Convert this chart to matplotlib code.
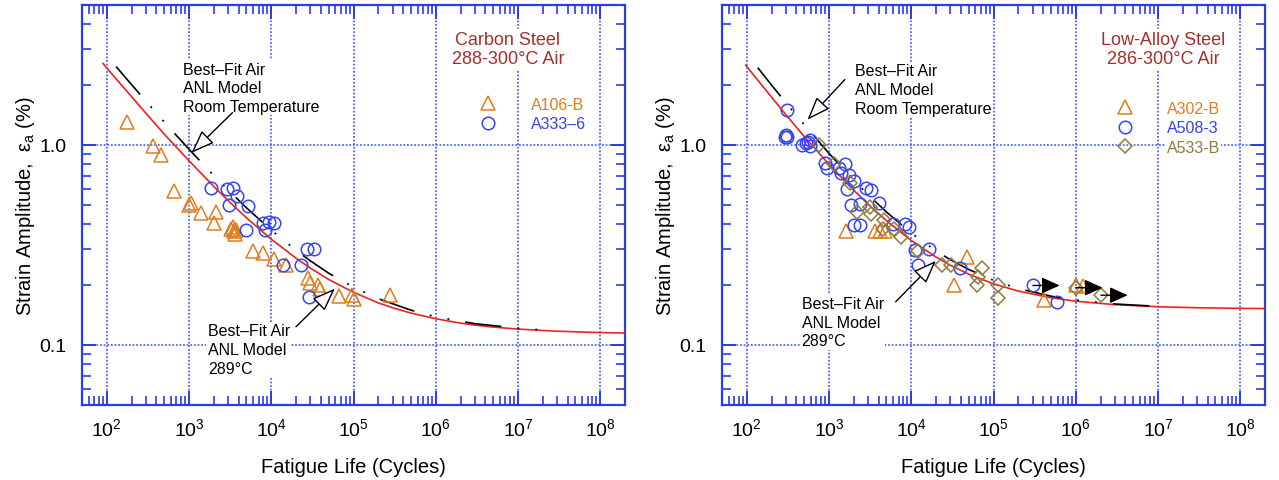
import matplotlib
matplotlib.use('Agg')
import matplotlib.pyplot as plt
from matplotlib.ticker import LogLocator, NullFormatter, FixedLocator, FixedFormatter

plt.rcParams['font.family'] = ['Liberation Sans', 'DejaVu Sans']
plt.rcParams['mathtext.fontset'] = 'custom'
plt.rcParams['mathtext.rm'] = 'Liberation Sans'
plt.rcParams['mathtext.it'] = 'Liberation Sans:italic'

# ---- carbon steel, 288-300 C air ----
cs_a106b_n = [175, 364, 460, 650, 1000, 1050, 1380, 2120, 2000, 3200, 3400, 3500, 3600, 3700,
              5930, 7980, 10800, 15100, 28300, 29600, 37400, 39200, 67400, 95500, 100000, 280000]
cs_a106b_e = [1.30, 0.985, 0.894, 0.589, 0.50, 0.51, 0.455, 0.46, 0.406, 0.38, 0.39, 0.37, 0.36, 0.375,
              0.294, 0.287, 0.268, 0.250, 0.215, 0.203, 0.199, 0.191, 0.176, 0.177, 0.170, 0.178]

cs_a333_n = [1875, 2860, 3380, 3790, 3080, 5250, 4910, 7850, 9460, 10800, 8380,
             13800, 22800, 27500, 33200, 29000]
cs_a333_e = [0.608, 0.603, 0.608, 0.553, 0.50, 0.497, 0.375, 0.406, 0.41, 0.406, 0.375,
             0.25, 0.25, 0.301, 0.301, 0.174]

# best-fit ANL model curves (289 C and room temperature)
cs_fit_n = [90, 100, 200, 300, 500, 1000, 2000, 3000, 5000, 1e4, 2e4, 3e4, 5e4, 1e5, 2e5, 3e5,
            5e5, 1e6, 2e6, 3e6, 5e6, 1e7, 3e7, 1e8, 2e8]
cs_fit_e = [2.55, 2.42, 1.74, 1.436, 1.13, 0.832, 0.619, 0.525, 0.431, 0.337, 0.271, 0.2415, 0.212,
            0.183, 0.162, 0.153, 0.144, 0.135, 0.1283, 0.1255, 0.1226, 0.1198, 0.1169, 0.1151, 0.1145]
cs_rt_n = [130, 200, 300, 500, 1000, 2000, 3000, 5000, 1e4, 2e4, 3e4, 5e4, 1e5, 2e5, 5e5,
           1e6, 3e6, 1e7, 2e7]
cs_rt_e = [2.46, 2.00, 1.652, 1.30, 0.950, 0.702, 0.593, 0.484, 0.374, 0.297, 0.2626, 0.228,
           0.194, 0.170, 0.149, 0.138, 0.1275, 0.121, 0.1186]

# ---- low-alloy steel, 286-300 C air ----
las_a302b_n = [1590, 3670, 4200, 4850, 47100, 33100, 409000, 1000000, 1240000]
las_a302b_e = [0.372, 0.37, 0.37, 0.37, 0.275, 0.20, 0.168, 0.20, 0.197]

las_a508_n = [308, 290, 300, 310, 470, 520, 580, 590, 560, 895, 955, 1320, 1560, 1380, 1750, 2005,
              1665, 2825, 3280, 1830, 2350, 4030, 2000, 2350, 5950, 8500, 9500, 11200, 16500,
              12200, 39000, 301000, 593000]
las_a508_e = [1.50, 1.10, 1.12, 1.09, 1.0, 1.02, 0.99, 1.06, 1.03, 0.809, 0.764, 0.764, 0.80, 0.72,
              0.707, 0.662, 0.599, 0.606, 0.594, 0.50, 0.505, 0.509, 0.396, 0.396, 0.40, 0.40, 0.39,
              0.297, 0.303, 0.252, 0.243, 0.198, 0.163]

las_a533_n = [757, 1150, 1780, 2200, 3190, 3280, 4620, 4500, 6110, 7490, 12200, 23900, 30500,
              65200, 73400, 63800, 114000, 114000, 1000000, 2020000]
las_a533_e = [1.0, 0.80, 0.647, 0.463, 0.49, 0.45, 0.423, 0.381, 0.381, 0.344, 0.295, 0.25, 0.25,
              0.219, 0.242, 0.198, 0.198, 0.172, 0.193, 0.177]

# run-outs (tests stopped without failure)
las_runout_n = [301000, 1000000, 2020000]
las_runout_e = [0.198, 0.193, 0.177]

las_fit_n = [97, 200, 300, 500, 1000, 2000, 3000, 5000, 1e4, 2e4, 3e4, 5e4, 1e5, 2e5, 5e5,
             1e6, 3e6, 1e7, 3e7, 1e8, 2e8]
las_fit_e = [2.50, 1.73, 1.411, 1.10, 0.798, 0.592, 0.504, 0.417, 0.332, 0.2745, 0.2497, 0.2254,
             0.2017, 0.1856, 0.1718, 0.1652, 0.1587, 0.1550, 0.1532, 0.1521, 0.1518]
las_rt_n = [136, 200, 300, 500, 1000, 2000, 3000, 5000, 1e4, 2e4, 3e4, 5e4, 1e5, 2e5, 5e5,
            1e6, 3e6, 1e7]
las_rt_e = [2.43, 1.99, 1.621, 1.26, 0.906, 0.666, 0.562, 0.461, 0.362, 0.295, 0.266, 0.238,
            0.210, 0.191, 0.175, 0.1675, 0.160, 0.1556]

x_ticks = [1e2, 1e3, 1e4, 1e5, 1e6, 1e7, 1e8]
y_ticks = [0.1, 1.0]
y_ticklabels = ['0.1', '1.0']

frame_blue = '#2b3ce4'
grid_blue = '#5668ee'
orange = '#e07d1e'
blue = '#3645ec'
olive = '#8d7c3c'
dark_red = '#a3302b'
white_box = dict(facecolor='white', edgecolor='none', pad=1.0)
open_head = dict(arrowstyle='-|>,head_length=1.2,head_width=0.45', fc='white', ec='black',
                 lw=1.0, mutation_scale=12, shrinkA=0, shrinkB=0)


def setup_axes(ax):
    ax.set_xscale('log')
    ax.set_yscale('log')
    ax.set_xlim(50, 2e8)
    ax.set_ylim(0.05, 5)
    ax.set_axisbelow(True)
    for s in ax.spines.values():
        s.set_color(frame_blue)
        s.set_linewidth(1.6)
    ax.xaxis.set_major_locator(FixedLocator(x_ticks))
    ax.xaxis.set_minor_locator(LogLocator(base=10, subs=range(2, 10), numticks=20))
    ax.xaxis.set_minor_formatter(NullFormatter())
    ax.yaxis.set_major_locator(FixedLocator(y_ticks))
    ax.yaxis.set_major_formatter(FixedFormatter(y_ticklabels))
    ax.yaxis.set_minor_locator(LogLocator(base=10, subs=range(2, 10), numticks=20))
    ax.yaxis.set_minor_formatter(NullFormatter())
    ax.tick_params(which='both', direction='in', top=True, right=True, color=frame_blue)
    ax.tick_params(which='major', length=10, width=1.4, labelsize=14)
    ax.tick_params(which='minor', length=6.5, width=1.2)
    ax.tick_params(axis='x', which='major', pad=9)
    ax.tick_params(axis='y', which='major', pad=11)
    ax.grid(which='major', color=grid_blue, linestyle=(0, (1, 1)), linewidth=1.3)
    ax.set_xlabel('Fatigue Life (Cycles)', fontsize=14.5, labelpad=13)
    ax.set_ylabel('Strain Amplitude,  ε$_\\mathregular{a}$ (%)', fontsize=14.5, labelpad=2)


def draw_models(ax, fit_n, fit_e, rt_n, rt_e):
    ax.plot(fit_n, fit_e, color='#ee2222', lw=1.2, zorder=3)
    ax.plot(rt_n, rt_e, color='black', lw=1.2, zorder=3,
            linestyle=(0, (22, 9.6, 1.2, 9.6, 1.2, 9.6)))


def annotate_pair(ax, top_xy, top_txt, bot_xy, bot_txt, top_tip, bot_tip):
    ax.text(top_txt[0], top_txt[1], 'Best–Fit Air\nANL Model\nRoom Temperature',
            ha='left', va='top', fontsize=11.5, linespacing=1.3, bbox=white_box, zorder=6)
    ax.annotate('', xy=top_tip, xytext=top_xy, zorder=6, arrowprops=open_head)
    ax.text(bot_txt[0], bot_txt[1], 'Best–Fit Air\nANL Model\n289°C',
            ha='left', va='top', fontsize=11.5, linespacing=1.3, bbox=white_box, zorder=6)
    ax.annotate('', xy=bot_tip, xytext=bot_xy, zorder=6, arrowprops=open_head)


def add_legend(ax, title, x_title, x_leg, y_leg, pad):
    ax.text(x_title, 0.89, title, transform=ax.transAxes, ha='center', va='center',
            fontsize=13, color=dark_red, linespacing=1.2, bbox=white_box, zorder=6)
    leg = ax.legend(loc='upper left', bbox_to_anchor=(x_leg, y_leg), frameon=False,
                    fontsize=11.5, handlelength=1.0, handletextpad=pad, labelspacing=0.28,
                    borderpad=0.2, labelcolor='markeredgecolor')
    leg.set_zorder(7)
    for t in leg.get_texts():
        t.set_bbox(dict(facecolor='white', edgecolor='none', pad=0.5))


fig = plt.figure(figsize=(12.79, 4.81), dpi=100)
ax1 = fig.add_axes([82 / 1279, 75 / 481, 543 / 1279, 400 / 481])
ax2 = fig.add_axes([722 / 1279, 75 / 481, 543 / 1279, 400 / 481])

# carbon steel
setup_axes(ax1)
draw_models(ax1, cs_fit_n, cs_fit_e, cs_rt_n, cs_rt_e)
ax1.plot(cs_a106b_n, cs_a106b_e, linestyle='none', marker='^', ms=10, mfc='none', mec=orange,
         mew=1.1, label='A106-B', zorder=4)
ax1.plot(cs_a333_n, cs_a333_e, linestyle='none', marker='o', ms=9, mfc='none', mec=blue,
         mew=1.1, label='A333–6', zorder=4)
annotate_pair(ax1, (3380, 1.448), (849, 2.60), (20000, 0.1231), (1698, 0.128),
              (1072, 0.912), (59300, 0.191))
add_legend(ax1, 'Carbon Steel\n288-300°C Air', 0.7845, 0.7116, 0.7985, 2.2)

# low-alloy steel
setup_axes(ax2)
draw_models(ax2, las_fit_n, las_fit_e, las_rt_n, las_rt_e)
ax2.plot(las_a302b_n, las_a302b_e, linestyle='none', marker='^', ms=10, mfc='none', mec=orange,
         mew=1.1, label='A302-B', zorder=4)
ax2.plot(las_a508_n, las_a508_e, linestyle='none', marker='o', ms=9, mfc='none', mec=blue,
         mew=1.1, label='A508-3', zorder=4)
ax2.plot(las_a533_n, las_a533_e, linestyle='none', marker='D', ms=7.5, mfc='none', mec=olive,
         mew=1.1, label='A533-B', zorder=4)
for n, e in zip(las_runout_n, las_runout_e):
    ax2.annotate('', xy=(n * 2.12, e), xytext=(n, e), zorder=5,
                 arrowprops=dict(arrowstyle='-|>,head_length=1.0,head_width=0.45',
                                 fc='black', ec='black', lw=1.0, mutation_scale=11,
                                 shrinkA=0, shrinkB=0))
annotate_pair(ax2, (1560, 2.12), (2060, 2.55), (6460, 0.164), (464, 0.175),
              (547, 1.335), (19950, 0.263))
add_legend(ax2, 'Low-Alloy Steel\n286-300°C Air', 0.813, 0.7063, 0.7885, 2.14)

fig.savefig('out.png', dpi=100)
